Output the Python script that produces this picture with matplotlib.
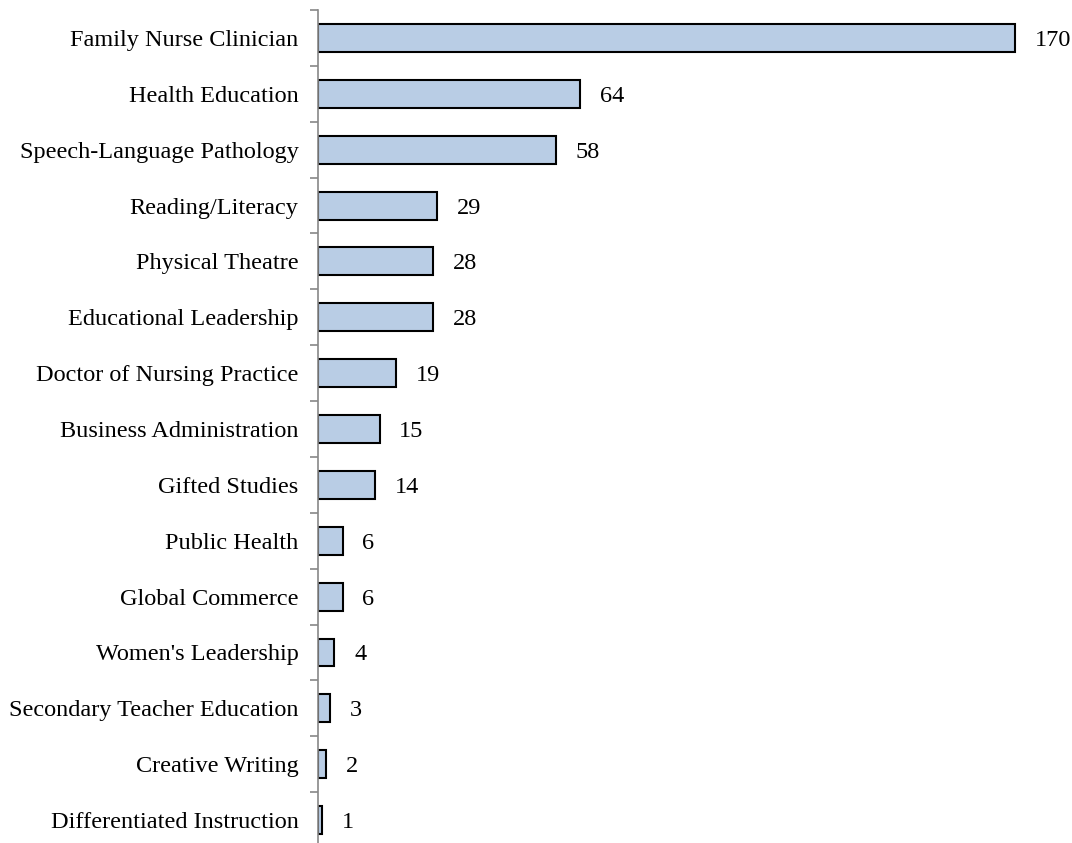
import matplotlib.pyplot as plt

# Programas e número de alunos (de cima para baixo)
programas = ['Family Nurse Clinician', 'Health Education', 'Speech-Language Pathology',
             'Reading/Literacy', 'Physical Theatre', 'Educational Leadership',
             'Doctor of Nursing Practice', 'Business Administration', 'Gifted Studies',
             'Public Health', 'Global Commerce', "Women's Leadership",
             'Secondary Teacher Education', 'Creative Writing', 'Differentiated Instruction']
alunos = [170, 64, 58, 29, 28, 28, 19, 15, 14, 6, 6, 4, 3, 2, 1]

plt.rcParams['font.family'] = ['Liberation Serif', 'DejaVu Serif']

fig = plt.figure(figsize=(10.72, 8.43), dpi=100)
ax = fig.add_axes([318 / 1072, -5 / 843, (1056 - 318) / 1072, 838 / 843])

posicoes = list(range(len(programas)))[::-1]
ax.barh(posicoes, alunos, height=0.5, color='#B9CDE5', edgecolor='black', linewidth=1.5)

for y, v in zip(posicoes, alunos):
    ax.text(v + 4.8, y, str(v), va='center_baseline', ha='left', fontsize=17.5)

ax.set_xlim(0, 180)
ax.set_ylim(-0.5, len(programas) - 0.5)
ax.set_yticks(posicoes)
ax.set_yticklabels(programas, fontsize=17.5, va='center_baseline')
ax.tick_params(axis='y', length=0, pad=14)
# marcas entre as categorias
ax.set_yticks([p - 0.5 for p in range(len(programas) + 1)], minor=True)
ax.tick_params(axis='y', which='minor', length=6, color='#888888', width=1.2)
ax.set_xticks([])

for lado in ['top', 'right', 'bottom']:
    ax.spines[lado].set_visible(False)
ax.spines['left'].set_color('#888888')
ax.spines['left'].set_linewidth(1.2)

plt.savefig('out.png')
